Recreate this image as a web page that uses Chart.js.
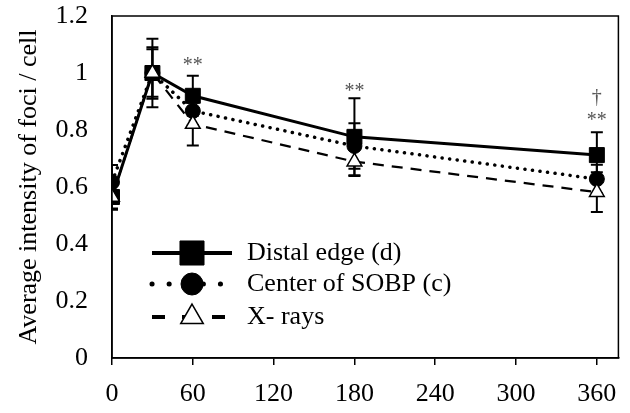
<!DOCTYPE html>
<html>
<head>
<meta charset="utf-8">
<script src="https://cdn.jsdelivr.net/npm/chart.js@4/dist/chart.umd.min.js"></script>
<style>
  html, body { margin: 0; padding: 0; background: #fff; overflow: hidden; }
  canvas { display: block; }
</style>
</head>
<body>
<canvas id="chart" width="630" height="413"></canvas>
<script>
// time points (min)
const times = [0, 30, 60, 180, 360];

// average intensity of foci / cell
const distal = [0.565, 1.0, 0.92, 0.776, 0.712];
const center = [0.617, 1.0, 0.867, 0.744, 0.628];
const xrays  = [0.565, 1.0, 0.821, 0.689, 0.582];

// error bars (+/-)
const distalErr = [0.045, 0.12, 0.07, 0.135, 0.08];
const centerErr = [0.06, 0.083, 0.05, 0.08, 0.05];
const xraysErr  = [0.04, 0.09, 0.075, 0.05, 0.07];

// significance marks
const marksX = [60, 180, 360];
const marksY = [1.04, 0.947, 0.846];
const marksText = [['**'], ['**'], ['\u2020', '**']];

const xTicks = [0, 60, 120, 180, 240, 300, 360];

const serif = '"Liberation Serif", "Times New Roman", serif';

function pts(ys) {
    return times.map((t, i) => ({ x: t, y: ys[i] }));
}

const errorBars = {
    id: 'errorBars',
    beforeDatasetsDraw(chart) {
        const ctx = chart.ctx;
        const xs = chart.scales.x, ys = chart.scales.y;
        const a = chart.chartArea;
        ctx.save();
        ctx.beginPath();
        ctx.rect(a.left, a.top, a.right - a.left, a.bottom - a.top);
        ctx.clip();
        ctx.strokeStyle = '#000';
        ctx.lineWidth = 2;
        chart.data.datasets.forEach(ds => {
            ds.data.forEach((p, i) => {
                const e = ds.errors[i];
                const px = xs.getPixelForValue(p.x);
                const top = ys.getPixelForValue(p.y + e);
                const bot = ys.getPixelForValue(p.y - e);
                ctx.beginPath();
                ctx.moveTo(px, top); ctx.lineTo(px, bot);
                ctx.moveTo(px - 6, top); ctx.lineTo(px + 6, top);
                ctx.moveTo(px - 6, bot); ctx.lineTo(px + 6, bot);
                ctx.stroke();
            });
        });
        ctx.restore();
    }
};

const extras = {
    id: 'extras',
    afterDraw(chart) {
        const ctx = chart.ctx;
        const a = chart.chartArea;
        const xs = chart.scales.x, ys = chart.scales.y;
        ctx.save();
        // box around plot
        ctx.strokeStyle = '#000';
        ctx.lineWidth = 1.5;
        ctx.strokeRect(a.left, a.top, a.right - a.left, a.bottom - a.top);

        // significance marks
        ctx.fillStyle = '#555';
        ctx.font = '20px ' + serif;
        ctx.textAlign = 'center';
        ctx.textBaseline = 'middle';
        marksX.forEach((mx, i) => {
            const px = xs.getPixelForValue(mx);
            const lines = marksText[i];
            lines.forEach((t, j) => {
                const py = ys.getPixelForValue(marksY[i]) - (lines.length - 1 - j) * 19;
                ctx.fillText(t, px, py + (t === '**' ? 4 : 0));
            });
        });

        // legend
        const rows = chart.data.datasets.slice().sort((p, q) => p.legendRank - q.legendRank);
        const lx0 = 152, lx1 = 232, rowY = [253, 284, 317];
        rows.forEach((ds, i) => {
            const y = rowY[i];
            ctx.strokeStyle = '#000';
            ctx.lineWidth = ds.legendLine.width;
            ctx.setLineDash(ds.legendLine.dash);
            ctx.lineCap = ds.legendLine.cap;
            ctx.beginPath();
            ctx.moveTo(lx0, y); ctx.lineTo(lx1, y);
            ctx.stroke();
            ctx.setLineDash([]);
            ctx.lineCap = 'butt';
            ctx.fillStyle = ds.pointBackgroundColor;
            ctx.strokeStyle = ds.pointBorderColor;
            ctx.lineWidth = ds.pointBorderWidth;
            Chart.helpers.drawPoint(ctx, {
                pointStyle: ds.pointStyle,
                radius: ds.legendRadius,
                borderWidth: ds.pointBorderWidth + 0.5
            }, (lx0 + lx1) / 2, y);
            ctx.fillStyle = '#000';
            ctx.font = '26px ' + serif;
            ctx.textAlign = 'left';
            ctx.textBaseline = 'middle';
            ctx.fillText(ds.label, 247, y);
        });
        ctx.restore();
    }
};

new Chart(document.getElementById('chart'), {
    type: 'line',
    data: {
        datasets: [
            {
                label: 'Distal edge (d)',
                data: pts(distal),
                errors: distalErr,
                legendRank: 0,
                legendRadius: 17,
                legendLine: { width: 4, dash: [], cap: 'butt' },
                order: 2,
                borderColor: '#000',
                borderWidth: 3,
                pointStyle: 'rect',
                pointRadius: 10.6,
                pointBackgroundColor: '#000',
                pointBorderColor: '#000',
                pointBorderWidth: 1
            },
            {
                label: 'Center of SOBP (c)',
                data: pts(center),
                errors: centerErr,
                legendRank: 1,
                legendRadius: 11,
                legendLine: { width: 5, dash: [0.1, 17], cap: 'round' },
                order: 1,
                borderColor: '#000',
                borderWidth: 3.5,
                borderDash: [0.1, 7.5],
                borderCapStyle: 'round',
                pointStyle: 'circle',
                pointRadius: 7.5,
                pointBackgroundColor: '#000',
                pointBorderColor: '#000',
                pointBorderWidth: 1
            },
            {
                label: 'X- rays',
                data: pts(xrays),
                errors: xraysErr,
                legendRank: 2,
                legendRadius: 13,
                legendLine: { width: 4, dash: [13, 17], cap: 'butt' },
                order: 0,
                borderColor: '#000',
                borderWidth: 2.2,
                borderDash: [11, 8],
                pointStyle: 'triangle',
                pointRadius: 8.5,
                pointBackgroundColor: '#fff',
                pointBorderColor: '#000',
                pointBorderWidth: 1.5
            }
        ]
    },
    options: {
        responsive: false,
        animation: false,
        layout: { padding: { top: 16, right: 4, left: 0, bottom: 0 } },
        plugins: {
            legend: { display: false },
            tooltip: { enabled: false }
        },
        elements: { line: { tension: 0 } },
        scales: {
            x: {
                type: 'linear',
                min: 0,
                max: 376,
                afterBuildTicks: s => { s.ticks = xTicks.map(v => ({ value: v })); },
                afterFit: s => { s.height = 55; s.paddingLeft = 0; s.paddingRight = 0; },
                grid: { display: true, drawOnChartArea: false, drawTicks: true, tickLength: 7, color: '#000', lineWidth: 1.5 },
                border: { display: true, color: '#000', width: 1.5 },
                ticks: { color: '#000', font: { family: serif, size: 26 }, padding: 14, maxRotation: 0 }
            },
            y: {
                min: 0,
                max: 1.2,
                afterFit: s => { s.width = 112; s.paddingTop = 0; s.paddingBottom = 0; },
                grid: { display: false, drawTicks: false },
                border: { display: true, color: '#000', width: 1.5 },
                ticks: { stepSize: 0.2, color: '#000', font: { family: serif, size: 26 }, padding: 24,
                         callback: v => String(Math.round(v * 10) / 10) },
                title: { display: true, text: 'Average intensity of foci / cell', color: '#000',
                         font: { family: serif, size: 26 }, padding: { top: 14, bottom: 0 } }
            }
        }
    },
    plugins: [errorBars, extras]
});
</script>
</body>
</html>
